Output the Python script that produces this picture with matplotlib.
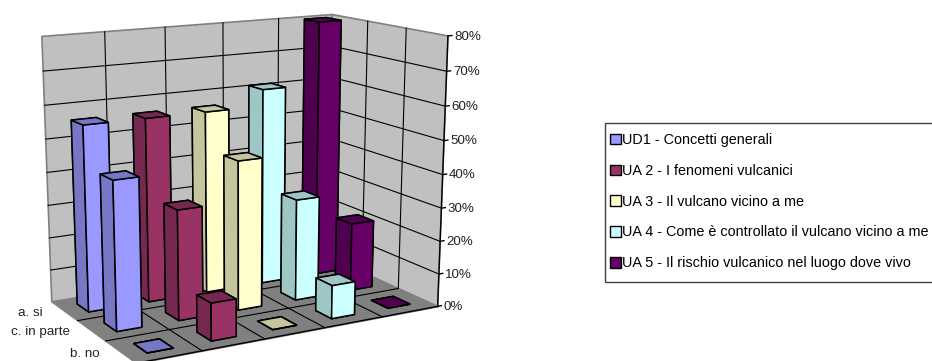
import matplotlib
matplotlib.use('Agg')
import matplotlib.pyplot as plt
import numpy as np
from matplotlib.patches import Patch, Rectangle
from mpl_toolkits.mplot3d import proj3d
from mpl_toolkits.mplot3d.art3d import Poly3DCollection

plt.rcParams['font.family'] = ['Liberation Sans', 'DejaVu Sans']

# Risposte per unita' didattica (percentuali)
righe = ['a. si', 'c. in parte', 'b. no']
serie = ['UD1 - Concetti generali',
         'UA 2 - I fenomeni vulcanici',
         'UA 3 - Il vulcano vicino a me',
         'UA 4 - Come è controllato il vulcano vicino a me',
         'UA 5 - Il rischio vulcanico nel luogo dove vivo']
val_si = [56, 56, 56, 61, 80]
val_parte = [44, 33, 45, 31, 21]
val_no = [0, 11, 0, 10, 0]
tacche = [0, 10, 20, 30, 40, 50, 60, 70, 80]

facce = ['#9999FF', '#993366', '#FFFFCC', '#CCFFFF', '#660066']
lati = ['#7777C6', '#772850', '#C6C69E', '#9EC6C6', '#4F004F']

W, H = 932, 361
fig = plt.figure(figsize=(W / 100, H / 100), dpi=100)
ax = fig.add_axes([0, 0.5 - 0.5 * W / H, 1, W / H], projection='3d', computed_zorder=False)
ax.set_axis_off()
ax.patch.set_visible(False)
ax.apply_aspect()

nx, ny, zmax = len(serie), len(righe), tacche[-1]

# Proiezione prospettica calcolata dagli spigoli della scatola (DLT)
spigoli = [((0, ny, 0), (52, 297)), ((0, ny, zmax), (42, 37)),
           ((nx, ny, zmax), (332, 13)), ((nx, ny, 0), (328, 262)),
           ((nx, 0, zmax), (448, 37)), ((nx, 0, 0), (438, 301)),
           ((0, 0, 0), (136, 368))]
inv = ax.transData.inverted()
A = []
for (px, py, pz), (u, v) in spigoli:
    u, v = inv.transform((u, H - v))
    A.append([px, py, pz, 1, 0, 0, 0, 0, -u * px, -u * py, -u * pz, -u])
    A.append([0, 0, 0, 0, px, py, pz, 1, -v * px, -v * py, -v * pz, -v])
P = np.linalg.svd(np.array(A))[2][-1].reshape(3, 4)
P = P / (P[2] @ np.array([nx / 2, ny / 2, zmax / 2, 1]))
M = np.vstack([P[0], P[1], [0, 0, 0, -1], P[2]])
ax.get_proj = lambda: M


def etichetta(x, y, z, testo, dx, dy, **kw):
    # testo piano ancorato a un punto 3D proiettato, spostato di (dx, dy) punti
    u, v, _ = proj3d.proj_transform(x, y, z, M)
    ax.annotate(testo, xy=(u, v), xycoords='data', xytext=(dx, dy), textcoords='offset points',
                fontsize=9.6, va='center', color='#222222', **kw)


# Pareti e pavimento
ax.add_collection3d(Poly3DCollection(
    [[(0, ny, 0), (nx, ny, 0), (nx, ny, zmax), (0, ny, zmax)],
     [(nx, ny, 0), (nx, 0, 0), (nx, 0, zmax), (nx, ny, zmax)]],
    facecolors='#C0C0C0', edgecolors='#808080', linewidths=1.2, zorder=1))
ax.add_collection3d(Poly3DCollection(
    [[(0, 0, 0), (nx, 0, 0), (nx, ny, 0), (0, ny, 0)]],
    facecolors='#808080', edgecolors='#808080', linewidths=1, zorder=1))

griglia = dict(color='black', lw=0.8, zorder=2)
for z in tacche[1:-1]:
    ax.plot([0, nx, nx], [ny, ny, 0], [z, z, z], **griglia)
for i in range(1, nx):
    ax.plot([i, i, i], [0, ny, ny], [0, 0, zmax], **griglia)
for j in range(1, ny):
    ax.plot([0, nx, nx], [j, j, j], [0, 0, zmax], **griglia)
ax.plot([0, nx], [0, 0], [0, 0], color='black', lw=1, zorder=3)

# Barre: dalla fila in fondo a quella davanti, da destra a sinistra
larg, prof = 0.40, 0.43
ordine = 10
for j, valori in enumerate([val_si, val_parte, val_no]):
    y = ny - 1 - j
    for i in reversed(range(nx)):
        colori = [lati[i], lati[i], facce[i], lati[i], lati[i], lati[i]]
        ax.bar3d(i + (1 - larg) / 2, y + (1 - prof) / 2, 0, larg, prof, valori[i],
                 color=colori, edgecolor='black', linewidth=1.1, shade=False, zorder=ordine)
        ordine += 1

# Asse verticale
ax.plot([nx, nx], [0, 0], [0, zmax], color='black', lw=1, zorder=50)
for z in tacche:
    ax.plot([nx, nx + 0.07], [0, 0], [z, z], color='black', lw=1, zorder=50)
    etichetta(nx, 0, z, '%d%%' % z, 4.5, -0.5, ha='left')

for j, nome in enumerate(righe):
    etichetta(0, ny - 0.5 - j, 0, nome, -15.5, -1.2, ha='right')

# Legenda: riquadro a parte, fino al bordo destro
fig.add_artist(Rectangle((605 / W, 1 - 282 / H), 340 / W, 159 / H, transform=fig.transFigure,
                         facecolor='white', edgecolor='#404040', linewidth=1))
maniglie = [Patch(facecolor=facce[i], edgecolor='black', linewidth=1, label=serie[i]) for i in range(nx)]
fig.legend(handles=maniglie, loc='upper left', bbox_to_anchor=(610 / W, 1 - 133 / H),
           borderaxespad=0, borderpad=0, fontsize=10.35, frameon=False, handlelength=0.75,
           handleheight=0.75, handletextpad=0.1, labelspacing=1.17)

fig.savefig('out.png', dpi=100)
